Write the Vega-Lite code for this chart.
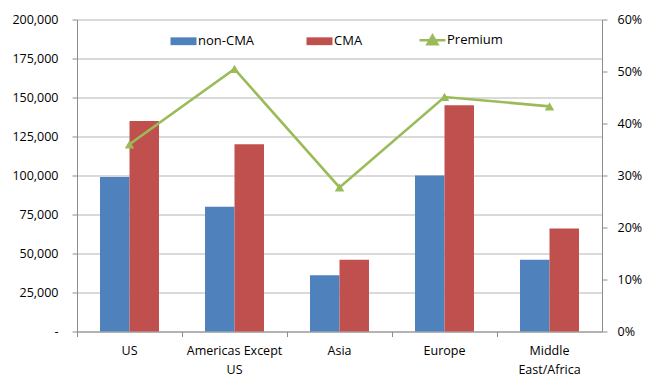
{
  "$schema": "https://vega.github.io/schema/vega-lite/v6.json",
  "width": 525,
  "height": 312,
  "autosize": "none",
  "padding": {"left": 77, "top": 19.5, "right": 48, "bottom": 58.5},
  "background": "white",
  "config": {
    "view": {"stroke": null},
    "font": "Open Sans",
    "axis": {"labelFont": "Open Sans", "labelFontSize": 12.5, "labelColor": "#000000", "domainColor": "#8C8C8C", "tickColor": "#8C8C8C", "gridColor": "#B4B4B4", "titleFontSize": 0}
  },
  "datasets": {
    "bars": [
      {"region": "US", "series": "non-CMA", "salary": 99000},
      {"region": "US", "series": "CMA", "salary": 135000},
      {"region": "Americas Except US", "series": "non-CMA", "salary": 80000},
      {"region": "Americas Except US", "series": "CMA", "salary": 120000},
      {"region": "Asia", "series": "non-CMA", "salary": 36000},
      {"region": "Asia", "series": "CMA", "salary": 46000},
      {"region": "Europe", "series": "non-CMA", "salary": 100000},
      {"region": "Europe", "series": "CMA", "salary": 145000},
      {"region": "Middle East/Africa", "series": "non-CMA", "salary": 46000},
      {"region": "Middle East/Africa", "series": "CMA", "salary": 66000}
    ],
    "premium": [
      {"region": "US", "premium": 0.36},
      {"region": "Americas Except US", "premium": 0.505},
      {"region": "Asia", "premium": 0.277},
      {"region": "Europe", "premium": 0.451},
      {"region": "Middle East/Africa", "premium": 0.433}
    ]
  },
  "resolve": {"scale": {"y": "independent"}},
  "layer": [
    {
      "data": {"name": "bars"},
      "mark": {"type": "bar"},
      "encoding": {
        "x": {
          "field": "region", "type": "nominal", "sort": null,
          "scale": {"paddingInner": 0, "paddingOuter": 0},
          "axis": {
            "title": null, "bandPosition": 0, "grid": false, "tickSize": 5, "labelPadding": 8,
            "labelAngle": 0, "labelLineHeight": 19, "labelBaseline": "top",
            "labelExpr": "datum.label == 'Americas Except US' ? ['Americas Except', 'US'] : datum.label == 'Middle East/Africa' ? ['Middle', 'East/Africa'] : datum.label"
          }
        },
        "xOffset": {
          "field": "series", "type": "nominal", "sort": ["non-CMA", "CMA"],
          "scale": {"paddingInner": 0, "paddingOuter": 0.78}
        },
        "y": {
          "field": "salary", "type": "quantitative",
          "scale": {"domain": [0, 200000], "nice": false},
          "axis": {
            "title": null, "values": [0, 25000, 50000, 75000, 100000, 125000, 150000, 175000, 200000],
            "tickSize": 5, "labelPadding": 14, "grid": true,
            "labelExpr": "datum.value == 0 ? '-\u00a0\u00a0' : format(datum.value, ',')"
          }
        },
        "color": {
          "field": "series", "type": "nominal",
          "scale": {"domain": ["non-CMA", "CMA", "Premium"], "range": ["#4F81BD", "#C0504D", "#9BBB59"]},
          "legend": {
            "title": null, "orient": "none", "direction": "horizontal",
            "legendX": 100, "legendY": 14, "padding": 0,
            "symbolSize": 676, "columnPadding": 51, "labelOffset": 8,
            "labelFont": "Open Sans", "labelFontSize": 13, "labelColor": "#000000",
            "symbolStrokeWidth": 0,
            "encode": {
              "symbols": {
                "update": {
                  "shape": {"signal": "datum.label == 'Premium' ? 'M-1,0H1M-0.38,0.3L0,-0.36L0.38,0.3Z' : 'M-1,-0.3H1V0.3H-1Z'"},
                  "fill": {"scale": "color", "field": "value"},
                  "stroke": {"scale": "color", "field": "value"},
                  "strokeWidth": {"signal": "datum.label == 'Premium' ? 2.5 : 0"},
                  "opacity": {"value": 1},
                  "fillOpacity": {"value": 1}
                }
              }
            }
          }
        }
      }
    },
    {
      "data": {"name": "premium"},
      "layer": [
        {
          "mark": {"type": "line", "strokeWidth": 2.6},
          "encoding": {
            "x": {"field": "region", "type": "nominal", "sort": null},
            "y": {
              "field": "premium", "type": "quantitative",
              "scale": {"domain": [0, 0.6], "nice": false},
              "axis": {"title": null, "orient": "right", "format": ".0%", "values": [0, 0.1, 0.2, 0.3, 0.4, 0.5, 0.6], "grid": false, "tickSize": 5, "labelPadding": 10}
            },
            "color": {"datum": "Premium"}
          }
        },
        {
          "mark": {"type": "point", "shape": "triangle-up", "filled": true, "size": 90, "opacity": 1},
          "encoding": {
            "x": {"field": "region", "type": "nominal", "sort": null},
            "y": {"field": "premium", "type": "quantitative"},
            "color": {"datum": "Premium"}
          }
        }
      ]
    }
  ]
}
